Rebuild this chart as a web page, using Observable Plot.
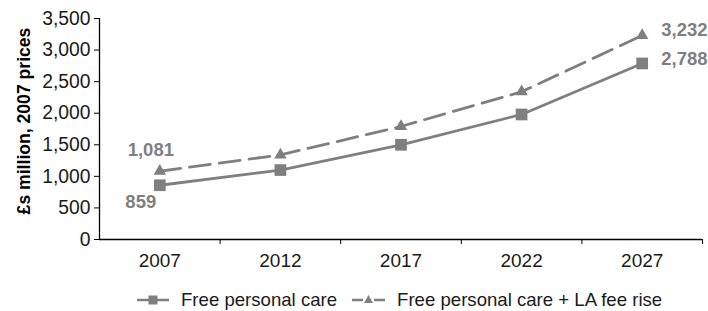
<!DOCTYPE html>
<html>
<head>
<meta charset="utf-8">
<script src="https://cdn.jsdelivr.net/npm/d3@7"></script>
<script src="https://cdn.jsdelivr.net/npm/@observablehq/plot@0.6"></script>
<style>
  html, body { margin: 0; padding: 0; background: #fff; }
  body { width: 708px; height: 311px; overflow: hidden; font-family: "Liberation Sans", Arial, sans-serif; }
  #legend { display: flex; justify-content: flex-start; align-items: center; height: 40px; font-size: 18.6px; color: #1a1a1a; padding-left: 137px; white-space: nowrap; }
  #legend .item { display: flex; align-items: center; margin-right: 15px; }
  #legend svg { margin-right: 12px; }
</style>
</head>
<body>
<div id="chart"></div>
<div id="legend"></div>
<script>
const years = [2007, 2012, 2017, 2022, 2027];
const freeCare = [859, 1100, 1500, 1980, 2788];
const feeRise = [1081, 1340, 1790, 2340, 3232];
const seriesNames = ["Free personal care", "Free personal care + LA fee rise"];
const yTicks = [0, 500, 1000, 1500, 2000, 2500, 3000, 3500];
const xEdges = [2004.5, 2009.5, 2014.5, 2019.5, 2024.5, 2029.5];
const labelled = [
  {year: 2007, value: 1081, s: 1},
  {year: 2007, value: 859, s: 0},
  {year: 2027, value: 3232, s: 1},
  {year: 2027, value: 2788, s: 0}
];

const grey = "#7f7f7f";
const rows = [];
years.forEach((y, i) => {
  rows.push({year: y, value: freeCare[i], series: seriesNames[0]});
  rows.push({year: y, value: feeRise[i], series: seriesNames[1]});
});
const fmt = d3.format(",");

const chart = Plot.plot({
  width: 708,
  height: 280,
  marginLeft: 99,
  marginRight: 6,
  marginTop: 18,
  marginBottom: 41,
  style: {fontFamily: "'Liberation Sans', Arial, sans-serif", background: "#fff", overflow: "visible"},
  x: {domain: [xEdges[0], xEdges[xEdges.length - 1]], axis: null, label: null},
  y: {domain: [0, 3500], axis: null, label: null},
  marks: [
    Plot.axisY({ticks: yTicks, tickFormat: fmt, tickSize: 5, fontSize: 19.3, fill: "#1a1a1a", stroke: "#000", tickPadding: 4, label: null}),
    Plot.axisX({ticks: xEdges.slice(1), tickFormat: () => "", tickSize: 5, stroke: "#000", label: null}),
    Plot.axisX({ticks: years, tickFormat: d => String(d), tickSize: 0, tickPadding: 14, fontSize: 19, fill: "#1a1a1a", label: null}),
    Plot.ruleY([0], {stroke: "#000", strokeWidth: 1.3}),
    Plot.ruleX([xEdges[0]], {y1: 0, y2: 3500, stroke: "#000", strokeWidth: 1.3}),
    Plot.line(rows.filter(d => d.series === seriesNames[0]), {x: "year", y: "value", stroke: grey, strokeWidth: 2.8}),
    Plot.line(rows.filter(d => d.series === seriesNames[1]), {x: "year", y: "value", stroke: grey, strokeWidth: 2.8, strokeDasharray: "21,9"}),
    Plot.dot(rows.filter(d => d.series === seriesNames[0]), {x: "year", y: "value", symbol: "square", r: 6.6, fill: grey, stroke: "none"}),
    Plot.dot(rows.filter(d => d.series === seriesNames[1]), {x: "year", y: "value", symbol: "triangle", r: 4.6, fill: grey, stroke: "none"}),
    Plot.text(labelled.filter(d => d.year === 2007 && d.s === 1), {x: "year", y: "value", text: d => fmt(d.value), dx: -9, dy: -21, fill: grey, fontSize: 18.5, fontWeight: "bold"}),
    Plot.text(labelled.filter(d => d.year === 2007 && d.s === 0), {x: "year", y: "value", text: d => fmt(d.value), dx: -19, dy: 17, fill: grey, fontSize: 18.5, fontWeight: "bold"}),
    Plot.text(labelled.filter(d => d.year === 2027 && d.s === 1), {x: "year", y: "value", text: d => fmt(d.value), dx: 19, dy: -5, textAnchor: "start", fill: grey, fontSize: 18.5, fontWeight: "bold"}),
    Plot.text(labelled.filter(d => d.year === 2027 && d.s === 0), {x: "year", y: "value", text: d => fmt(d.value), dx: 19, dy: -4, textAnchor: "start", fill: grey, fontSize: 18.5, fontWeight: "bold"})
  ]
});
document.getElementById("chart").appendChild(chart);

// rotated y-axis title
const svg = d3.select(chart);
svg.append("text")
  .attr("transform", "translate(25.5,121) rotate(-90)")
  .attr("text-anchor", "middle")
  .attr("dominant-baseline", "middle")
  .attr("font-size", 17.6)
  .attr("font-weight", "bold")
  .attr("fill", "#000")
  .text("£s million, 2007 prices");

const legend = document.getElementById("legend");
const swatches = [
  '<svg width="32" height="12"><line x1="0" y1="6" x2="32" y2="6" stroke="' + grey + '" stroke-width="2.5"/><rect x="11.5" y="1.5" width="9" height="9" fill="' + grey + '"/></svg>',
  '<svg width="33" height="12"><line x1="0" y1="6" x2="11" y2="6" stroke="' + grey + '" stroke-width="2.5"/><line x1="22" y1="6" x2="33" y2="6" stroke="' + grey + '" stroke-width="2.5"/><polygon points="16.5,1 21,9 12,9" fill="' + grey + '"/></svg>'
];
seriesNames.forEach((name, i) => {
  const item = document.createElement("div");
  item.className = "item";
  item.innerHTML = swatches[i] + "<span>" + name + "</span>";
  legend.appendChild(item);
});
</script>
</body>
</html>
